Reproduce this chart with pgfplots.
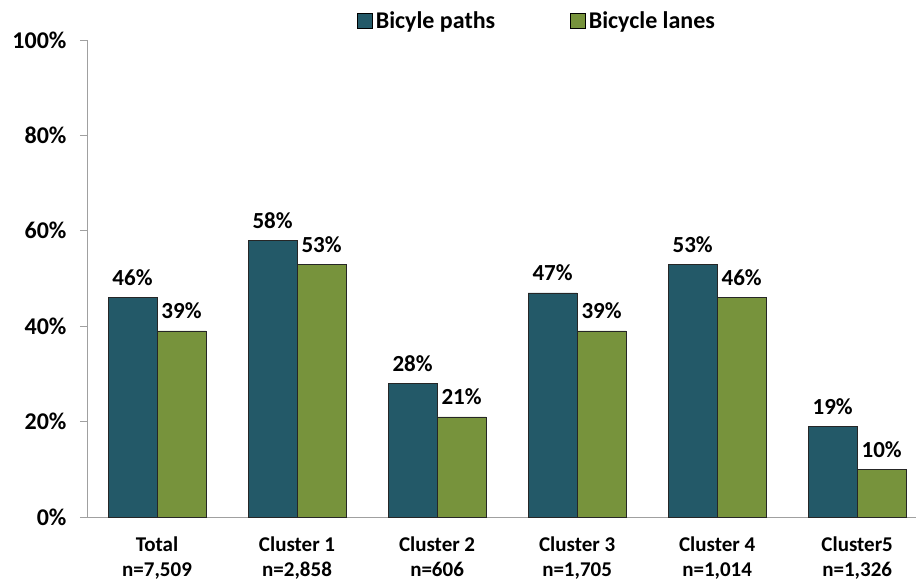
\documentclass[border=0pt]{standalone}
\usepackage{pgfplots}
\pgfplotsset{compat=1.18}
\usepackage{fontspec}
\setmainfont{Carlito}
\definecolor{cpath}{RGB}{35,89,104}
\definecolor{clane}{RGB}{119,147,60}
\definecolor{caxis}{RGB}{160,160,160}
\begin{document}
\begin{tikzpicture}[font=\bfseries]
\path[use as bounding box] (-87pt,-64pt) rectangle (829pt,517pt);
\begin{axis}[
  at={(0,0)}, anchor=south west,
  scale only axis, width=829pt, height=477pt,
  xmin=-0.5, xmax=5.42, ymin=0, ymax=100,
  axis lines*=left,
  axis line style={caxis, line width=0.8pt},
  tick style={caxis, line width=0.8pt},
  tick align=outside,
  ybar=0pt, bar width=0.35,
  /pgf/number format/assume math mode=true,
  xtick={0,1,2,3,4,5},
  major x tick style={draw=none},
  extra x ticks={-0.5,0.5,1.5,2.5,3.5,4.5},
  extra x tick labels={},
  extra x tick style={major tick length=6pt, tick style={caxis, line width=0.8pt}},
  xticklabels={{Total\\n=7,509},{Cluster 1\\n=2,858},{Cluster 2\\n=606},{Cluster 3\\n=1,705},{Cluster 4\\n=1,014},{Cluster5\\n=1,326}},
  x tick label style={align=center, font=\fontsize{21}{25}\selectfont\bfseries, yshift=-9pt},
  ytick={0,20,40,60,80,100},
  yticklabels={0\%,20\%,40\%,60\%,80\%,100\%},
  y tick label style={font=\fontsize{24}{28}\selectfont\bfseries, xshift=-10pt},
  major tick length=7pt,
  nodes near coords={\pgfmathprintnumber{\pgfplotspointmeta}\%},
  every node near coord/.append style={font=\fontsize{23}{27}\selectfont\bfseries, inner sep=0pt, anchor=base, yshift=12pt, black},
  legend columns=2,
  legend style={at={(axis description cs:0.3257,1.0409)}, anchor=west, draw=none, fill=none, inner sep=0pt,
    font=\fontsize{24}{28}\selectfont\bfseries,
    /tikz/every even column/.append style={column sep=72pt},
    nodes={inner xsep=3pt}},
  legend image code/.code={\draw[#1,draw=black,line width=0.6pt] (0pt,-7.5pt) rectangle (15pt,7.5pt);},
]
\addplot[fill=cpath, draw=black!85, line width=0.6pt] coordinates {(0,46) (1,58) (2,28) (3,47) (4,53) (5,19)};
\addplot[fill=clane, draw=black!85, line width=0.6pt] coordinates {(0,39) (1,53) (2,21) (3,39) (4,46) (5,10)};
\legend{Bicyle paths, Bicycle lanes}
\end{axis}
\end{tikzpicture}
\end{document}
